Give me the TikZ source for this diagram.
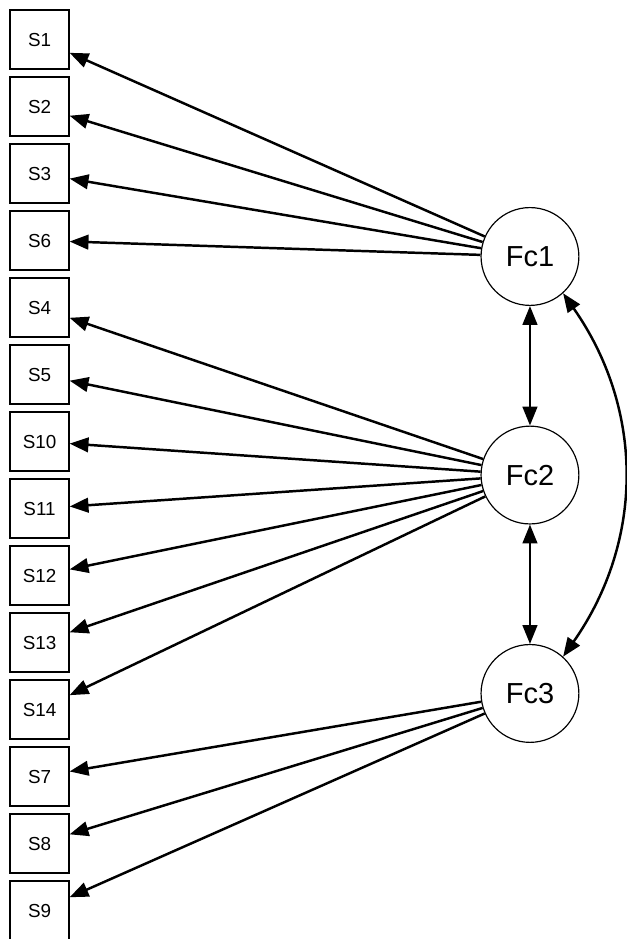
\documentclass[tikz,border=0pt]{standalone}
\usepackage{fontspec}
\setmainfont{Liberation Sans}
\usetikzlibrary{arrows.meta}
\tikzset{
    itembox/.style={draw,line width=0.5pt,minimum size=0.881cm,inner sep=0pt,font=\fontsize{8}{9}\selectfont},
    factor/.style={draw,circle,line width=0.5pt,minimum size=1.46cm,inner sep=0pt,font=\fontsize{12.3}{14}\selectfont},
    load/.style={line width=1.05pt,-{Triangle[length=8pt,width=6.2pt]}},
    cov/.style={line width=1.05pt,{Triangle[length=8pt,width=6.2pt]}-{Triangle[length=8pt,width=6.2pt]}}
}
\begin{document}
\begin{tikzpicture}[x=1cm,y=1cm]
        % 1 unidade = passo entre as caixas
        \useasboundingbox (0,0) rectangle (9.358,-14.015);
        \foreach \n/\i in {S1/0,S2/1,S3/2,S6/3,S4/4,S5/5,S10/6,S11/7,S12/8,S13/9,S14/10,S7/11,S8/12,S9/13}{
            \node[itembox] (\n) at (0.59,-0.59-\i) {\n};
        }
        \node[factor] (Fc1) at (7.91,-3.828) {Fc1};
        \node[factor] (Fc2) at (7.91,-7.09)  {Fc2};
        \node[factor] (Fc3) at (7.91,-10.35) {Fc3};
        \foreach \s in {S1,S2,S3,S6} \draw[load] (Fc1) -- (\s);
        \foreach \s in {S4,S5,S10,S11,S12,S13,S14} \draw[load] (Fc2) -- (\s);
        \foreach \s in {S7,S8,S9} \draw[load] (Fc3) -- (\s);
        \draw[cov] (Fc1) -- (Fc2);
        \draw[cov] (Fc2) -- (Fc3);
        \draw[cov] (Fc1.-48) to[out=-55,in=55] (Fc3.48);
    \end{tikzpicture}
\end{document}
